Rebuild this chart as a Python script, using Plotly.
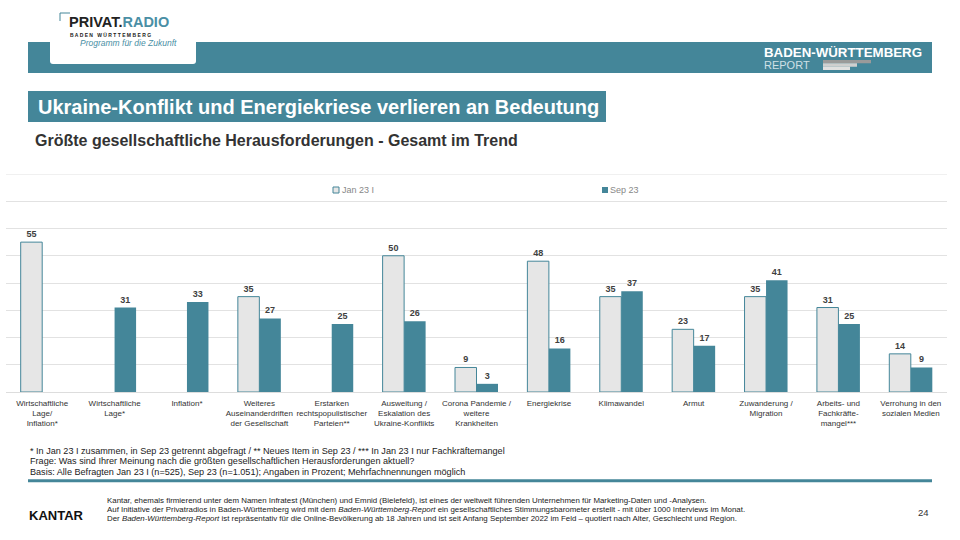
import plotly.graph_objects as go

# ---------------- data ----------------
categories = [
    "Wirtschaftliche<br>Lage/<br>Inflation*",
    "Wirtschaftliche<br>Lage*",
    "Inflation*",
    "Weiteres<br>Auseinanderdriften<br>der Gesellschaft",
    "Erstarken<br>rechtspopulistischer<br>Parteien**",
    "Ausweitung /<br>Eskalation des<br>Ukraine-Konflikts",
    "Corona Pandemie /<br>weitere<br>Krankheiten",
    "Energiekrise",
    "Klimawandel",
    "Armut",
    "Zuwanderung /<br>Migration",
    "Arbeits- und<br>Fachkräfte-<br>mangel***",
    "Verrohung in den<br>sozialen Medien",
]
jan23 = [55, None, None, 35, None, 50, 9, 48, 35, 23, 35, 31, 14]
sep23 = [None, 31, 33, 27, 25, 26, 3, 16, 37, 17, 41, 25, 9]
series_names = ["Jan 23 I", "Sep 23"]

TEAL = "#448699"
LIGHT = "#E6E6E6"
FONT = "Liberation Sans, Arial, sans-serif"

# plot area in pixels
L, R, T, B = 6, 947, 174, 392
W, H = 960, 540


def px(x):
    return (x - L) / (R - L)


def py(y):
    return (B - y) / (B - T)


fig = go.Figure()
fig.add_trace(go.Bar(
    x=categories, y=jan23, name=series_names[0],
    marker=dict(color=LIGHT, line=dict(color=TEAL, width=1)),
    texttemplate="<b>%{y}</b>", textposition="outside",
    textfont=dict(size=9, color="#404040", family=FONT),
    cliponaxis=False, showlegend=False,
))
fig.add_trace(go.Bar(
    x=categories, y=sep23, name=series_names[1],
    marker=dict(color=TEAL, line=dict(color=TEAL, width=0)),
    texttemplate="<b>%{y}</b>", textposition="outside",
    textfont=dict(size=9, color="#404040", family=FONT),
    cliponaxis=False, showlegend=False,
))

shapes = []
annotations = []


def rect(x0, y0, x1, y1, color, line=None):
    shapes.append(dict(type="rect", xref="paper", yref="paper",
                       x0=px(x0), x1=px(x1), y0=py(y0), y1=py(y1),
                       fillcolor=color, line=dict(width=0) if line is None else line,
                       layer="above"))


def text(x, y, s, size, color="#333", bold=False, xanchor="left", yanchor="middle", italic=False):
    if bold:
        s = "<b>" + s + "</b>"
    if italic:
        s = "<i>" + s + "</i>"
    annotations.append(dict(xref="paper", yref="paper", x=px(x), y=py(y), text=s,
                            showarrow=False, xanchor=xanchor, yanchor=yanchor,
                            font=dict(size=size, color=color, family=FONT)))


# header band
rect(28, 42, 932, 73, TEAL)
# logo box
shapes.append(dict(type="path", xref="paper", yref="paper",
                   path="M {a},{b} L {c},{b} L {c},{d} Q {c},{e} {f},{e} L {g},{e} Q {a},{e} {a},{d} Z".format(
                       a=px(50), b=py(30), c=px(196), d=py(61), e=py(64), f=px(193), g=px(53)),
                   fillcolor="white", line=dict(width=0), layer="above"))
# logo corner bracket
shapes.append(dict(type="line", xref="paper", yref="paper", x0=px(60), x1=px(70), y0=py(13), y1=py(13),
                   line=dict(color=TEAL, width=1), layer="above"))
shapes.append(dict(type="line", xref="paper", yref="paper", x0=px(60), x1=px(60), y0=py(13), y1=py(21),
                   line=dict(color=TEAL, width=1), layer="above"))
annotations.append(dict(xref="paper", yref="paper", x=px(67), y=py(22),
                        text="<b><span style='color:#222'>PRIVAT.</span><span style='color:#4a8fa5'>RADIO</span></b>",
                        showarrow=False, xanchor="left", yanchor="middle",
                        font=dict(size=14.5, family=FONT)))
text(68, 34.5, "B A D E N   W Ü R T T E M B E R G", 5, "#222", bold=True)
text(78, 42.5, "Programm für die Zukunft", 8.5, "#4a8fa5", italic=True)
# right logo
text(762, 52, "BADEN-WÜRTTEMBERG", 13.3, "white", bold=True)
text(762, 65, "REPORT", 11, "#cfe0e6")
rect(823, 60, 871, 63.3, "#9a9a9a")
rect(823, 63.3, 857, 66.7, "#cfcfcf")
rect(823, 66.7, 850, 70, "#e0e0e0")

# title box
rect(28, 91, 606, 122, TEAL)
text(36, 106.5, "Ukraine-Konflikt und Energiekriese verlieren an Bedeutung", 20, "white", bold=True)
# subtitle
text(33, 141, "Größte gesellschaftliche Herausforderungen - Gesamt im Trend", 16, "#333", bold=True)

# legend (manual)
rect(333, 187, 339, 193, LIGHT, line=dict(color=TEAL, width=1))
text(340, 190, series_names[0], 9, "#888")
rect(602, 187, 608, 193, TEAL)
text(608, 190, series_names[1], 9, "#888")

# footnotes
text(28, 451, "* In Jan 23 I zusammen, in Sep 23 getrennt abgefragt / ** Neues Item in Sep 23 / *** In Jan 23 I nur Fachkräftemangel", 9.1, "#222")
text(28, 461, "Frage: Was sind Ihrer Meinung nach die größten gesellschaftlichen Herausforderungen aktuell?", 9.1, "#222")
text(28, 472, "Basis: Alle Befragten Jan 23 I (n=525), Sep 23 (n=1.051); Angaben in Prozent; Mehrfachnennungen möglich", 9.1, "#222")
# separator line
rect(28, 479.3, 932, 482.3, TEAL)

# footer
text(27, 515, "KANTAR", 13, "#111", bold=True)
text(105, 500, "Kantar, ehemals firmierend unter dem Namen Infratest (München) und Emnid (Bielefeld), ist eines der weltweit führenden Unternehmen für Marketing-Daten und -Analysen.", 7.9, "#222")
text(105, 509, "Auf Initiative der Privatradios in Baden-Württemberg wird mit dem <i>Baden-Württemberg-Report</i> ein gesellschaftliches Stimmungsbarometer erstellt - mit über 1000 Interviews im Monat.", 7.9, "#222")
text(105, 518.7, "Der <i>Baden-Württemberg-Report</i> ist repräsentativ für die Online-Bevölkerung ab 18 Jahren und ist seit Anfang September 2022 im Feld – quotiert nach Alter, Geschlecht und Region.", 7.9, "#222")
text(931, 512, "24", 9.5, "#333", xanchor="right")

# top gridline at 80 (edge of range) drawn explicitly
shapes.append(dict(type="line", xref="paper", yref="y", x0=0, x1=1, y0=80, y1=80,
                   line=dict(color="#E2E2E2", width=1), layer="below"))

fig.update_layout(
    width=W, height=H,
    margin=dict(l=L, r=W - R, t=T, b=H - B, pad=0),
    paper_bgcolor="white", plot_bgcolor="white",
    barmode="group", bargap=0.406, bargroupgap=0,
    font=dict(family=FONT, color="#333"),
    showlegend=False,
    shapes=shapes, annotations=annotations,
    xaxis=dict(showgrid=False, showline=True, linecolor="#DDDDDD", linewidth=1,
               tickfont=dict(size=8, color="#333", family=FONT),
               ticks="outside", ticklen=3, tickcolor="rgba(0,0,0,0)", tickangle=0,
               fixedrange=True),
    yaxis=dict(range=[0, 80], dtick=10, tick0=0, showticklabels=False, showgrid=True,
               gridcolor="#E2E2E2", gridwidth=1, zeroline=False, fixedrange=True,
               showline=False, mirror=False),
)

fig.write_html("out.html", config={"displayModeBar": False},
               post_script="document.body.style.margin='0';document.body.style.overflow='hidden';")
